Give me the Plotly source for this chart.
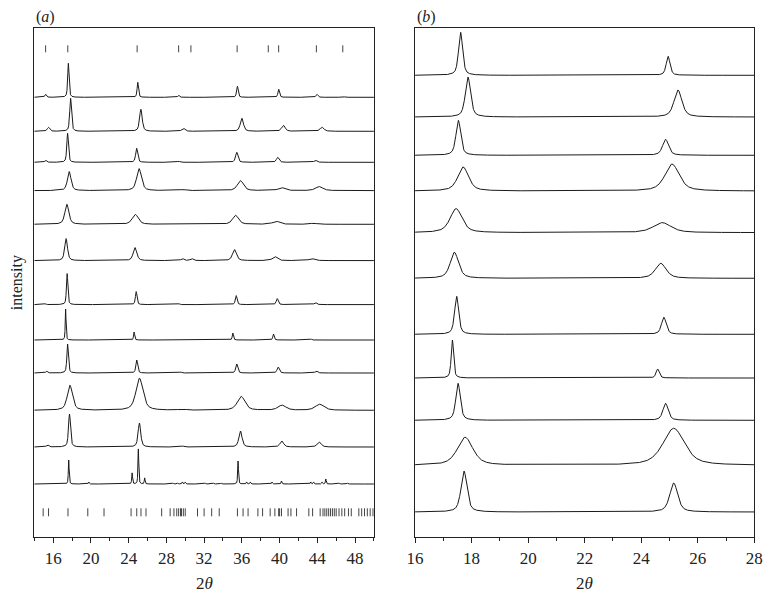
import numpy as np
import plotly.graph_objects as go

# ---- panel (a): stacked patterns, 2theta 14-50 ----
# baseline offsets (arbitrary stacking units), top to bottom
a_base = [439.7, 405.7, 374.7, 346.4, 312.7, 276.4, 232.4, 197.0, 164.0, 126.7, 90.0, 53.0]
a_pos = [
    [15.2, 17.61, 24.97, 29.3, 35.53, 39.91, 43.95, 46.7],
    [15.5, 17.85, 25.3, 29.8, 36.0, 40.4, 44.5],
    [15.2, 17.53, 24.85, 29.3, 35.46, 39.8, 43.8],
    [17.7, 25.1, 29.8, 35.85, 40.2, 44.2],
    [17.45, 24.7, 35.33, 39.63, 43.6],
    [17.37, 24.67, 29.7, 30.7, 35.22, 39.5, 43.4],
    [15.1, 17.48, 24.8, 29.3, 35.4, 39.75, 43.8],
    [17.32, 24.58, 35.05, 39.36, 43.3],
    [15.3, 17.53, 24.86, 29.5, 35.46, 39.85, 43.9],
    [17.77, 25.15, 29.7, 35.92, 40.26, 44.25],
    [15.4, 17.73, 25.14, 29.7, 35.85, 40.23, 44.2],
    [17.65, 19.78, 24.37, 25.03, 25.7, 28.7, 29.2, 29.7, 30.0, 32.1, 33.0, 33.8,
     35.6, 36.5, 36.9, 39.2, 40.2, 43.3, 43.6, 44.5, 44.9, 46.3, 47.2],
]
a_height = [
    [3, 34, 15, 2, 11, 8, 3, 1],
    [4, 33, 22, 3, 13, 6, 4],
    [2, 29, 14, 1, 10, 5, 2],
    [19, 22, 1, 10, 3, 4],
    [20, 10, 9, 3, 1],
    [22, 13, 2, 2, 11, 4, 2],
    [1, 31, 13, 1, 9, 6, 2],
    [31, 8, 7, 6, 1],
    [2, 29, 13, 1, 9, 6, 2],
    [25, 32, 1, 14, 5, 6],
    [2, 33, 24, 1, 16, 6, 5],
    [24, 2, 11, 35, 6, 1, 1, 2, 2, 1, 1, 1, 23, 2, 2, 2, 3, 2, 2, 2, 5, 1, 1],
]
a_fwhm = [
    [0.2, 0.17, 0.17, 0.2, 0.2, 0.2, 0.25, 0.3],
    [0.3, 0.22, 0.33, 0.4, 0.4, 0.45, 0.5],
    [0.25, 0.2, 0.25, 0.3, 0.3, 0.32, 0.35],
    [0.45, 0.6, 0.7, 0.75, 0.8, 0.9],
    [0.5, 0.75, 0.75, 0.85, 0.9],
    [0.35, 0.45, 0.35, 0.35, 0.5, 0.6, 0.7],
    [0.2, 0.17, 0.2, 0.2, 0.22, 0.25, 0.3],
    [0.1, 0.13, 0.15, 0.17, 0.2],
    [0.2, 0.19, 0.22, 0.25, 0.25, 0.28, 0.3],
    [0.65, 0.9, 0.9, 0.95, 1.0, 1.1],
    [0.3, 0.25, 0.33, 0.4, 0.4, 0.45, 0.5],
    [0.1] * 23,
]
# reflection markers
top_ticks = [15.2, 17.55, 24.9, 29.3, 30.6, 35.5, 38.8, 39.9, 43.9, 46.7]
bottom_ticks = [14.94, 15.51, 17.57, 19.67, 21.39, 24.26, 24.86, 25.31, 25.84, 27.5,
                28.4, 28.8, 29.1, 29.3, 29.5, 29.6, 29.8, 30.0, 31.3, 32.0, 32.8, 33.6,
                35.53, 36.13, 36.66, 37.7, 38.2, 39.0, 39.5, 39.9, 40.0, 40.2, 40.9,
                41.2, 41.8, 43.1, 43.5, 44.3, 44.6, 44.8, 45.0, 45.2, 45.4, 45.6, 45.8,
                46.0, 46.3, 46.6, 46.9, 47.3, 47.6, 48.4, 48.7, 49.0, 49.3, 49.6, 49.9]

# ---- panel (b): zoom on the two main reflections, 2theta 16-28 ----
b_base = [461.7, 420.0, 381.7, 346.0, 304.4, 258.7, 202.7, 159.0, 116.7, 71.7, 25.0]
b_pos = [[17.61, 24.95], [17.87, 25.3], [17.53, 24.86], [17.7, 25.09], [17.45, 24.74],
         [17.39, 24.69], [17.47, 24.8], [17.32, 24.58], [17.52, 24.86], [17.77, 25.15],
         [17.73, 25.15]]
b_height = [[43, 19], [40, 27], [35, 16], [24, 27], [24, 10], [26, 15], [38, 17],
            [38, 9], [37, 17], [28, 37], [41, 29]]
b_fwhm = [[0.17, 0.16], [0.22, 0.33], [0.2, 0.25], [0.45, 0.6], [0.5, 0.75], [0.35, 0.45],
          [0.17, 0.2], [0.1, 0.13], [0.19, 0.22], [0.65, 0.9], [0.25, 0.33]]


def profile(x, pos, hgt, fw, eta=0.6):
    y = np.zeros_like(x)
    for p, h, w in zip(pos, hgt, fw):
        d = (x - p) / (w / 2)
        y += h * (eta / (1 + d ** 2) + (1 - eta) * np.exp(-np.log(2) * d ** 2))
    return y


LINE = dict(color='#1a1a1a', width=1)
fig = go.Figure()

xa = np.arange(14, 50.001, 0.005)
for base, pos, hgt, fw in zip(a_base, a_pos, a_height, a_fwhm):
    fig.add_trace(go.Scatter(x=xa, y=base + profile(xa, pos, hgt, fw), mode='lines',
                             line=LINE, xaxis='x', yaxis='y', showlegend=False,
                             hoverinfo='skip'))


def sticks(xs, y0, y1):
    tx, ty = [], []
    for t in xs:
        tx += [t, t, None]
        ty += [y0, y1, None]
    return tx, ty


for xs, y0, y1 in [(top_ticks, 484.7, 491.7), (bottom_ticks, 20.7, 28.7)]:
    tx, ty = sticks(xs, y0, y1)
    fig.add_trace(go.Scatter(x=tx, y=ty, mode='lines', line=dict(color='#444', width=1),
                             xaxis='x', yaxis='y', showlegend=False, hoverinfo='skip'))

xb = np.arange(16, 28.001, 0.004)
for base, pos, hgt, fw in zip(b_base, b_pos, b_height, b_fwhm):
    fig.add_trace(go.Scatter(x=xb, y=base + profile(xb, pos, hgt, fw), mode='lines',
                             line=LINE, xaxis='x2', yaxis='y2', showlegend=False,
                             hoverinfo='skip'))

# page has an 8px body margin; place the plot area in page pixels
W, H = 765, 587
L, R, T, B = 26, 10, 20, 58
PW, PH = W - L - R, H - T - B


def px(xp):
    return min(1.0, max(0.0, (xp - 8 - L) / PW))


def py(yp):
    return 1 - (yp - 8 - T) / PH


SERIF = 'Liberation Serif, Times New Roman, serif'
FONT = dict(family=SERIF, size=17, color='#222')
axis_common = dict(showline=True, linecolor='#222', linewidth=1.3, mirror=True,
                   showgrid=False, zeroline=False, ticks='outside', ticklen=5,
                   tickcolor='#222', tickfont=FONT)
yaxis_common = dict(range=[0, 509], showticklabels=False, showline=True, linecolor='#222',
                    linewidth=1.3, mirror=True, showgrid=False, zeroline=False, ticks='')
fig.update_layout(
    width=W, height=H,
    margin=dict(l=L, r=R, t=T, b=B),
    paper_bgcolor='white', plot_bgcolor='white',
    xaxis=dict(domain=[px(34.3), px(377.7)], range=[14, 50], tick0=16, dtick=4,
               minor=dict(dtick=2, tick0=14, ticks='outside', ticklen=3, tickcolor='#222'),
               **axis_common),
    yaxis=dict(domain=[0, 1], **yaxis_common),
    xaxis2=dict(domain=[px(419.3), px(762.3)], range=[16, 28], tick0=16, dtick=2, anchor='y2',
                minor=dict(dtick=1, tick0=16, ticks='outside', ticklen=3, tickcolor='#222'),
                **axis_common),
    yaxis2=dict(domain=[0, 1], anchor='x2', **yaxis_common),
    font=FONT,
)

ann = [
    dict(text='(<i>a</i>)', x=33, y=17, anchor='left', size=16),
    dict(text='(<i>b</i>)', x=419, y=17, anchor='left', size=16),
    dict(text='2<i>θ</i>', x=206, y=583, anchor='center', size=17),
    dict(text='2<i>θ</i>', x=591, y=583, anchor='center', size=17),
]
for a in ann:
    fig.add_annotation(text=a['text'], x=px(a['x']), y=py(a['y']),
                       xref='paper', yref='paper', showarrow=False,
                       xanchor=a['anchor'], yanchor='middle',
                       font=dict(family=SERIF, size=a['size'], color='#222'))
fig.add_annotation(text='intensity', x=(17 - 8 - L) / PW, y=py(283),
                   xref='paper', yref='paper', showarrow=False, textangle=-90,
                   xanchor='center', yanchor='middle',
                   font=dict(family=SERIF, size=16, color='#222'))

fig.write_html("out.html")
